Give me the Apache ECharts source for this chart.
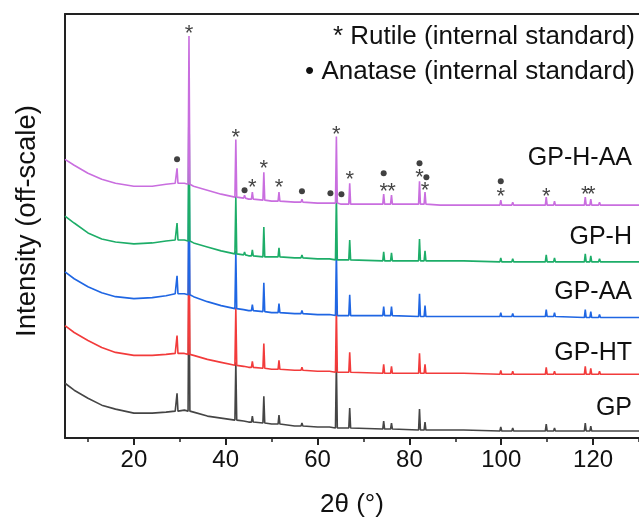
<!DOCTYPE html>
<html>
<head>
<meta charset="utf-8">
<script src="https://cdn.jsdelivr.net/npm/echarts@6/dist/echarts.min.js"></script>
<style>html,body{margin:0;padding:0;background:#fff;}#c{width:639px;height:523px;}</style>
</head>
<body>
<div id="c"></div>
<script>
// x tick values
const majorTicks = [20, 40, 60, 80, 100, 120];
const minorTicks = [10, 30, 50, 70, 90, 110, 130];

// sample names (bottom to top)
const sampleNames = ['GP', 'GP-HT', 'GP-AA', 'GP-H', 'GP-H-AA'];

// baselines [2theta, offset intensity]
const gpBase = [[5,55],[7,48],[10,40],[13,33],[16,29],[20,25],[24,25],[27,26],[29,27],[31,28],[33,26],[36,22],[39,20],[42,18],[45,16],[50,14],[55,12],[60,11],[65,10],[75,9],[90,8],[110,7],[130,7]];
const gphtBase = [[5,113],[7,106],[10,98],[13,91],[16,86],[20,83],[24,83],[27,84],[29,85],[31,85],[33,83],[36,79],[39,76],[42,73],[45,71],[50,69],[55,68],[60,67],[65,66],[75,65],[90,65],[110,64],[130,64]];
const gpaaBase = [[5,167],[7,160],[10,152],[13,146],[16,142],[20,140],[24,141],[27,143],[29,145],[31,145],[33,142],[36,137],[39,133],[42,130],[45,128],[50,126],[55,125],[60,124],[65,123],[75,123],[90,122],[110,122],[130,121]];
const gphBase = [[5,223],[7,216],[10,206],[13,200],[16,197],[20,195],[24,196],[27,198],[29,199],[31,199],[33,196],[36,192],[39,188],[42,185],[45,183],[50,182],[55,181],[60,180],[65,179],[75,178],[90,178],[110,177],[130,177]];
const gphaaBase = [[5,280],[7,274],[10,266],[13,260],[16,256],[20,253],[24,253],[27,255],[29,256],[31,256],[33,253],[36,249],[39,245],[42,242],[45,240],[50,238],[55,237],[60,236],[65,235],[75,235],[90,234],[110,234],[130,234]];

// peaks [2theta, base, top]
const gpPeaks = [[29.4,27,45],[32.0,27,177],[42.2,18,76],[44.1,17,19],[45.8,16,22],[48.3,15,42],[51.6,14,23],[56.6,12,15],[62.8,11,13],[64.1,10,76],[65.2,10,12],[67.0,10,30],[74.4,9,17],[76.1,9,15],[82.2,8,29],[83.4,8,16],[86.9,8,10],[92.0,8,10],[99.9,7,11],[102.5,7,10],[109.8,7,14],[111.6,7,10],[118.3,7,15],[119.5,7,12],[121.4,7,9]];
const gphtPeaks = [[29.4,85,103],[32.0,84,234],[42.2,73,131],[44.1,72,74],[45.8,71,77],[48.3,70,95],[51.6,69,78],[56.6,68,71],[62.8,67,69],[64.1,66,132],[65.2,66,68],[67.0,66,86],[74.4,65,74],[76.1,65,72],[82.2,65,85],[83.4,65,74],[86.9,65,67],[92.0,65,67],[99.9,64,68],[102.5,64,67],[109.8,64,71],[111.6,64,67],[118.3,64,72],[119.5,64,70],[121.4,64,67]];
const gpaaPeaks = [[29.4,145,163],[32.0,144,294],[42.2,130,188],[44.1,129,131],[45.8,128,134],[48.3,127,156],[51.6,126,135],[56.6,125,128],[62.8,124,126],[64.1,123,189],[65.2,123,125],[67.0,123,144],[74.4,123,132],[76.1,123,132],[82.2,122,145],[83.4,122,133],[86.9,122,124],[92.0,122,124],[99.9,122,126],[102.5,122,125],[109.8,122,129],[111.6,122,126],[118.3,121,129],[119.5,121,127],[121.4,121,124]];
const gphPeaks = [[29.4,199,216],[32.0,198,348],[42.2,185,243],[44.1,184,187],[45.8,183,189],[48.3,182,212],[51.6,182,191],[56.6,181,184],[62.8,180,182],[64.1,179,245],[65.2,179,181],[67.0,179,199],[74.4,178,187],[76.1,178,186],[82.2,178,200],[83.4,178,188],[86.9,178,180],[92.0,178,180],[99.9,177,181],[102.5,177,180],[109.8,177,184],[111.6,177,181],[118.3,177,185],[119.5,177,183],[121.4,177,180]];
const gphaaPeaks = [[29.4,256,271],[32.0,255,404],[42.2,242,300],[44.1,241,244],[45.8,240,247],[48.3,239,267],[51.6,238,247],[56.6,237,240],[62.8,236,238],[64.1,236,303],[65.2,235,237],[67.0,235,256],[74.4,235,245],[76.1,235,244],[82.2,235,258],[83.4,235,247],[86.9,234,236],[92.0,234,236],[99.9,234,239],[102.5,234,237],[109.8,234,242],[111.6,234,238],[118.3,234,242],[119.5,234,240],[121.4,234,237]];

// phase markers above the GP-H-AA trace
const rutileMarks = [[32.0,411],[42.2,307],[45.8,256],[48.3,275],[51.6,256],[64.1,310],[67.0,264],[74.4,252],[76.1,252],[82.2,266],[83.4,253],[99.9,247],[109.8,247],[118.3,249],[119.6,249]];
const anataseMarks = [[29.4,280],[44.1,249],[56.6,248],[62.8,246],[65.2,245],[74.4,266],[82.2,276],[83.7,262],[99.9,258]];

const colors = ['#454545', '#F23B3B', '#1F66E3', '#1DAD68', '#C96EDF'];

function buildTrace(base, peaks) {
  const pts = base.map(p => [p[0], p[1]]);
  peaks.forEach(([x, b, t]) => { pts.push([x - 0.2, b], [x, t], [x + 0.2, b]); });
  pts.sort((a, b) => a[0] - b[0]);
  return pts;
}

const traces = [
  buildTrace(gpBase, gpPeaks),
  buildTrace(gphtBase, gphtPeaks),
  buildTrace(gpaaBase, gpaaPeaks),
  buildTrace(gphBase, gphPeaks),
  buildTrace(gphaaBase, gphaaPeaks)
];

const FONT = 'Liberation Sans, Arial, sans-serif';
const chart = echarts.init(document.getElementById('c'), null, {renderer: 'canvas'});

const series = traces.map((d, i) => ({
  name: sampleNames[i], type: 'line', data: d, showSymbol: false, symbol: 'none',
  lineStyle: {color: colors[i], width: 1.6}, itemStyle: {color: colors[i]},
  z: 2 + i, animation: false, clip: true
}));
series.push({
  type: 'scatter', data: rutileMarks, symbolSize: 1, itemStyle: {color: 'rgba(0,0,0,0)'}, z: 20,
  label: {show: true, position: 'inside', formatter: '*', fontSize: 22, fontFamily: FONT, color: '#111', offset: [0, 5]},
  animation: false
});
series.push({
  type: 'scatter', data: anataseMarks, symbol: 'circle', symbolSize: 6, itemStyle: {color: '#111'}, z: 20,
  animation: false
});

const labelY = [408, 353, 292, 237, 158];
const graphics = sampleNames.map((n, i) => ({
  type: 'text', x: 632, y: labelY[i],
  style: {text: n, fontSize: 25, fontFamily: FONT, fill: '#111', align: 'right', verticalAlign: 'middle'}
}));
graphics.push({type: 'text', x: 635, y: 37, style: {text: '* Rutile (internal standard)', fontSize: 26, fontFamily: FONT, fill: '#111', align: 'right', verticalAlign: 'middle'}});
graphics.push({type: 'text', x: 635, y: 72, style: {text: '\u2022 Anatase (internal standard)', fontSize: 26, fontFamily: FONT, fill: '#111', align: 'right', verticalAlign: 'middle'}});

chart.setOption({
  backgroundColor: '#fff',
  animation: false,
  grid: {left: 65, right: -3, top: 14, bottom: 83, containLabel: false},
  xAxis: [
    {
      type: 'value', min: 5, max: 130, position: 'bottom',
      name: '2\u03b8 (\u00b0)', nameLocation: 'middle', nameGap: 54,
      nameTextStyle: {fontSize: 26, fontFamily: FONT, color: '#111'},
      axisLine: {show: true, lineStyle: {color: '#222', width: 2}},
      axisTick: {show: true, inside: false, length: 7, customValues: majorTicks, lineStyle: {color: '#222', width: 2}},
      axisLabel: {show: true, customValues: majorTicks, fontSize: 24, fontFamily: FONT, color: '#111', margin: 10},
      splitLine: {show: false}
    },
    {
      type: 'value', min: 5, max: 130, position: 'bottom', gridIndex: 0,
      axisLine: {show: false},
      axisTick: {show: true, length: 4, customValues: minorTicks, lineStyle: {color: '#222', width: 1.5}},
      axisLabel: {show: false},
      splitLine: {show: false}
    },
    {
      type: 'value', min: 5, max: 130, position: 'top', gridIndex: 0,
      axisLine: {show: true, lineStyle: {color: '#222', width: 2}},
      axisTick: {show: false}, axisLabel: {show: false}, splitLine: {show: false}
    }
  ],
  yAxis: {
    type: 'value', min: 0, max: 426,
    name: 'Intensity (off-scale)', nameLocation: 'middle', nameGap: 24,
    nameTextStyle: {fontSize: 27.5, fontFamily: FONT, color: '#111', padding: [0, 0, 0, 10]},
    axisLine: {show: true, lineStyle: {color: '#222', width: 2}},
    axisTick: {show: false}, axisLabel: {show: false}, splitLine: {show: false}
  },
  series: series,
  graphic: graphics
});
</script>
</body>
</html>
